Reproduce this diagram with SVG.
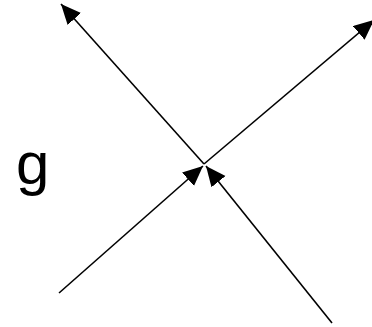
<svg xmlns="http://www.w3.org/2000/svg" width="372" height="327" viewBox="0 0 372 327">
<style>
.edge{stroke:#000;stroke-width:1.6;fill:none;marker-end:url(#ah)}
.lbl{font-family:"Liberation Sans",Arial,sans-serif;font-size:60px;fill:#000}
</style>
<defs>
<marker id="ah" markerUnits="userSpaceOnUse" markerWidth="22" markerHeight="20" refX="20" refY="9" orient="auto">
<path d="M0,0 L20,9 L0,18 z" fill="#000"/>
</marker>
</defs>
<rect width="372" height="327" fill="#fff"/>
<g id="connectors">
<line class="edge" x1="59" y1="293" x2="203" y2="166"/>
<line class="edge" x1="332" y1="323" x2="206" y2="166"/>
<line class="edge" x1="204" y1="164" x2="61" y2="4"/>
<line class="edge" x1="204" y1="164" x2="374" y2="20"/>
</g>
<g id="label-g">
<text class="lbl" x="16" y="184">g</text>
</g>
</svg>
